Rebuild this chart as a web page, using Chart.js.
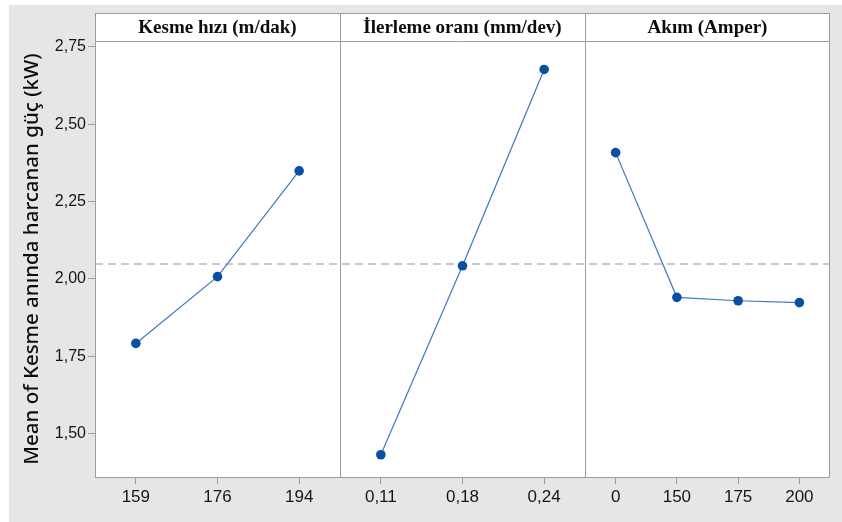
<!DOCTYPE html>
<html>
<head>
<meta charset="utf-8">
<script src="https://cdn.jsdelivr.net/npm/chart.js@4.4.1/dist/chart.umd.min.js"></script>
<style>
  html, body { margin: 0; padding: 0; background: #ffffff; }
  #wrap { width: 842px; height: 522px; position: relative; }
</style>
</head>
<body>
<div id="wrap"><canvas id="c" width="842" height="522"></canvas></div>
<script>
// Main effects: mean cutting power for each factor level
const factorTitles = ['Kesme hızı (m/dak)', 'İlerleme oranı (mm/dev)', 'Akım (Amper)'];

const speedLevels = ['159', '176', '194'];
const speedMeans = [1.791, 2.007, 2.349];

const feedLevels = ['0,11', '0,18', '0,24'];
const feedMeans = [1.431, 2.042, 2.677];

const currentLevels = ['0', '150', '175', '200'];
const currentMeans = [2.408, 1.940, 1.929, 1.923];

const grandMean = 2.048;
const yTickValues = [1.50, 1.75, 2.00, 2.25, 2.50, 2.75];
const yMin = 1.359;
const yMax = 2.769;
const yTitle = 'Mean of Kesme anında harcanan güç (kW)';

// Each factor gets one unit of the shared x scale; levels sit at the centres of equal slots.
const panels = [
  { levels: speedLevels, means: speedMeans },
  { levels: feedLevels, means: feedMeans },
  { levels: currentLevels, means: currentMeans }
];
const slotCentre = (p, i, n) => p + (i + 0.5) / n;

const xTickList = [];
panels.forEach((panel, p) => {
  panel.levels.forEach((lab, i) => {
    xTickList.push({ value: slotCentre(p, i, panel.levels.length), label: lab });
  });
});

const effectSets = panels.map((panel, p) => ({
  data: panel.means.map((m, i) => ({ x: slotCentre(p, i, panel.means.length), y: m })),
  borderColor: '#3d77c1',
  borderWidth: 1.2,
  pointRadius: 4.8,
  pointHoverRadius: 4.8,
  pointBackgroundColor: '#0b4fa3',
  pointBorderColor: '#0b4fa3',
  pointBorderWidth: 0,
  tension: 0,
  fill: false
}));

const meanSet = {
  data: [{ x: 0, y: grandMean }, { x: panels.length, y: grandMean }],
  borderColor: '#b8b8b8',
  borderWidth: 1.6,
  borderDash: [8, 5],
  pointRadius: 0,
  fill: false
};

const HEADER_TOP = 13;
const FRAME = '#9c9c9c';

const panelFrame = {
  id: 'panelFrame',
  beforeDraw(chart) {
    const { ctx, chartArea: a } = chart;
    ctx.save();
    ctx.fillStyle = '#ffffff';
    ctx.fillRect(0, 0, chart.width, chart.height);
    ctx.fillStyle = '#e6e6e6';
    ctx.fillRect(9, 5, chart.width - 9, chart.height - 5);
    ctx.fillStyle = '#ffffff';
    ctx.fillRect(a.left, HEADER_TOP, a.right - a.left, a.bottom - HEADER_TOP);
    ctx.restore();
  },
  beforeDatasetsDraw(chart) {
    const { ctx, chartArea: a } = chart;
    const xs = chart.scales.x;
    ctx.save();
    ctx.strokeStyle = FRAME;
    ctx.lineWidth = 1;
    // outer frame and header rule
    ctx.strokeRect(Math.round(a.left) + 0.5, HEADER_TOP + 0.5,
                   Math.round(a.right - a.left) - 1, Math.round(a.bottom - HEADER_TOP));
    ctx.beginPath();
    ctx.moveTo(a.left, Math.round(a.top) + 0.5);
    ctx.lineTo(a.right, Math.round(a.top) + 0.5);
    // panel dividers
    for (let p = 1; p < panels.length; p++) {
      const px = Math.round(xs.getPixelForValue(p)) + 0.5;
      ctx.moveTo(px, HEADER_TOP);
      ctx.lineTo(px, a.bottom);
    }
    ctx.stroke();
    // panel headings
    ctx.fillStyle = '#0d0d0d';
    ctx.font = 'bold 19px "Liberation Serif", "DejaVu Serif", serif';
    ctx.textAlign = 'center';
    ctx.textBaseline = 'middle';
    factorTitles.forEach((t, p) => {
      const cx = (xs.getPixelForValue(p) + xs.getPixelForValue(p + 1)) / 2;
      ctx.fillText(t, cx, (HEADER_TOP + a.top) / 2 + 1);
    });
    ctx.restore();
  }
};

new Chart(document.getElementById('c'), {
  type: 'line',
  data: { datasets: [...effectSets, meanSet] },
  plugins: [panelFrame],
  options: {
    responsive: false,
    animation: false,
    devicePixelRatio: 1,
    layout: { padding: { top: 41, right: 12, left: 0, bottom: 0 } },
    plugins: { legend: { display: false }, tooltip: { enabled: false } },
    scales: {
      x: {
        type: 'linear',
        min: 0,
        max: panels.length,
        afterBuildTicks: (scale) => { scale.ticks = xTickList.map(t => ({ value: t.value })); },
        afterFit: (scale) => { scale.height = 45; },
        ticks: {
          autoSkip: false,
          maxRotation: 0,
          padding: 3,
          color: '#151515',
          font: { family: '"Liberation Sans", Arial, sans-serif', size: 17 },
          callback: (v, i) => xTickList[i].label
        },
        grid: { drawOnChartArea: false, drawTicks: true, tickLength: 7, color: FRAME },
        border: { display: false }
      },
      y: {
        min: yMin,
        max: yMax,
        afterBuildTicks: (scale) => { scale.ticks = yTickValues.map(v => ({ value: v })); },
        afterFit: (scale) => { scale.width = 95; },
        ticks: {
          padding: 2,
          color: '#151515',
          font: { family: '"Liberation Sans", Arial, sans-serif', size: 16 },
          callback: (v) => v.toFixed(2).replace('.', ',')
        },
        grid: { drawOnChartArea: false, drawTicks: true, tickLength: 7, color: FRAME },
        border: { display: false },
        title: {
          display: true,
          text: yTitle,
          color: '#0d0d0d',
          font: { family: '"Noto Sans", "Open Sans", sans-serif', size: 20.5, weight: '500' },
          padding: { top: 20, bottom: 0 }
        }
      }
    }
  }
});
</script>
</body>
</html>
